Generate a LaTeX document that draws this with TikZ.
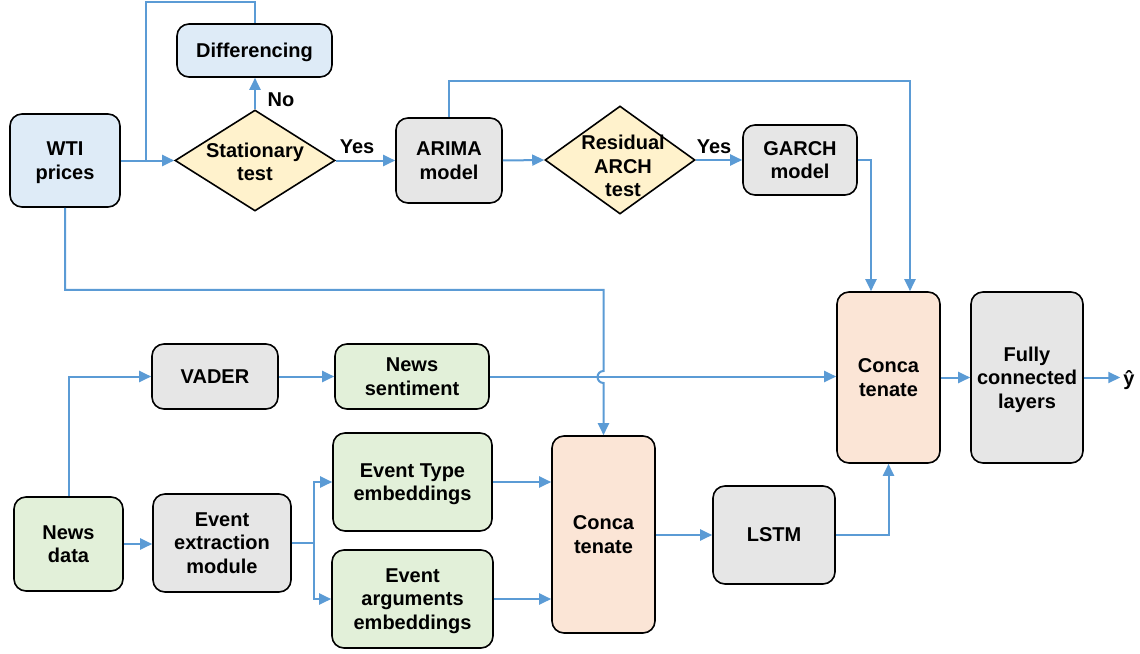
\documentclass[tikz,border=0pt]{standalone}
\usepackage{fontspec}
\setmainfont{Liberation Sans}
\usetikzlibrary{shapes.geometric,arrows.meta}
\definecolor{lblue}{HTML}{DEEBF7}
\definecolor{lyel}{HTML}{FFF2CC}
\definecolor{lgrey}{HTML}{E6E6E6}
\definecolor{lgreen}{HTML}{E2F0D9}
\definecolor{lpeach}{HTML}{FBE5D6}
\definecolor{conn}{HTML}{5B9BD5}
\begin{document}
\begin{tikzpicture}[x=1pt,y=1pt,
  lbl/.style={font=\bfseries\fontsize{20}{23.5}\selectfont, align=center, inner sep=0pt},
  box/.style={lbl, draw=black, line width=1.6pt, rounded corners=12pt, text depth=0pt},
  dia/.style={diamond, draw=black, line width=1.6pt, fill=lyel, inner sep=0pt},
  line/.style={draw=conn, line width=2pt},
  arr/.style={line, -{Triangle[length=12pt,width=11pt]}}]
\useasboundingbox (0,0) rectangle (1140,-653);
% top row
\node[box, fill=lblue, minimum width=110, minimum height=93] (wti) at (65,-160.5) {WTI\\prices};
\node[box, fill=lblue, minimum width=155, minimum height=53] (diff) at (254.5,-50.5) {Differencing};
\node[dia, minimum width=160, minimum height=101] (st) at (255,-160.5) {};
\node[lbl] (stt) at (255,-162) {Stationary\\test};
\node[box, fill=lgrey, minimum width=106, minimum height=85] (arima) at (449,-160.5) {ARIMA\\model};
\node[dia, minimum width=150, minimum height=108] (rat) at (620,-160) {};
\node[lbl] (ratt) at (623,-166) {Residual\\ARCH\\test};
\node[box, fill=lgrey, minimum width=114, minimum height=70] (garch) at (800,-160) {GARCH\\model};
% right
\node[box, fill=lpeach, minimum width=103, minimum height=171] (c2) at (888.5,-377.5) {Conca\\tenate};
\node[box, fill=lgrey, minimum width=112, minimum height=171] (fc) at (1027,-377.5) {Fully\\connected\\layers};
\node[lbl, inner sep=3pt] (yhat) at (1129,-380) {ŷ};
% bottom
\node[box, fill=lgrey, minimum width=126, minimum height=65] (vader) at (215,-376.5) {VADER};
\node[box, fill=lgreen, minimum width=154, minimum height=65] (ns) at (412,-376.5) {News\\sentiment};
\node[box, fill=lgreen, minimum width=109, minimum height=94] (nd) at (68.5,-544) {News\\data};
\node[box, fill=lgrey, minimum width=138, minimum height=98] (ee) at (222,-543) {Event\\extraction\\module};
\node[box, fill=lgreen, minimum width=159, minimum height=98] (et) at (412.5,-482) {Event Type\\embeddings};
\node[box, fill=lgreen, minimum width=161, minimum height=98] (ea) at (412.5,-599) {Event\\arguments\\embeddings};
\node[box, fill=lpeach, minimum width=103, minimum height=197] (c1) at (603.5,-534.5) {Conca\\tenate};
\node[box, fill=lgrey, minimum width=122, minimum height=98] (lstm) at (774,-535) {LSTM};
% labels
\node[lbl] (no) at (281,-100) {No};
\node[lbl] (yes1) at (357,-147) {Yes};
\node[lbl] (yes2) at (714,-147) {Yes};
% connectors
\coordinate (j1) at (146,-160.5);
\draw[arr] (wti.east) -- (st.west);
\draw[line] (diff.north) -- ++(0,21.5) -| (j1);
\draw[arr] (st.north) -- (st.north |- diff.south);
\draw[arr] (st.east) -- (arima.west);
\draw[arr] (arima.east) -- (rat.west);
\draw[arr] (rat.east) -- (garch.west);
\draw[arr] (arima.north) -- ++(0,36) -| ([xshift=21.5pt]c2.north);
\draw[arr] (garch.east) -| ([xshift=-17.5pt]c2.north);
\draw[arr] (c2.east) -- (fc.west);
\draw[arr] (fc.east) -- (fc.east -| yhat.west);
\coordinate (hopT) at (c1.north |- 0,-371);
\draw[arr] (wti.south) -- ++(0,-82) -| (hopT) arc[start angle=90,end angle=270,radius=6] -- (c1.north);
\draw[arr] (vader.east) -- (ns.west);
\draw[arr] (ns.east) -- (ns.east -| c2.west);
\draw[arr] (nd.north) |- (vader.west);
\draw[arr] (nd.east) -- (nd.east -| ee.west);
\draw[arr] (ee.east) -- ++(22,0) |- (et.west);
\draw[arr] (ee.east) -- ++(22,0) |- (ea.west);
\draw[arr] (et.east) -- (et.east -| c1.west);
\draw[arr] (ea.east) -- (ea.east -| c1.west);
\draw[arr] (c1.east |- lstm.west) -- (lstm.west);
\draw[arr] (lstm.east) -| (c2.south);
\end{tikzpicture}
\end{document}
